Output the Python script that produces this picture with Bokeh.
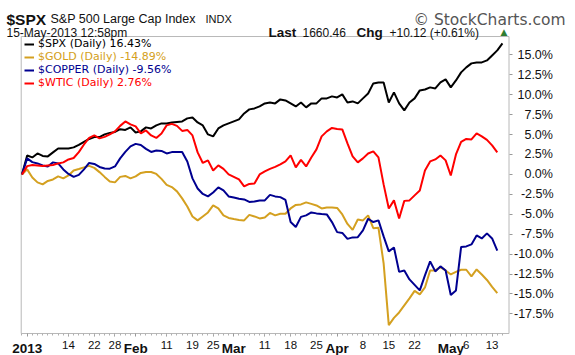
import pandas as pd
from bokeh.plotting import figure
from bokeh.models import Range1d, LinearAxis, FixedTicker, Legend, LegendItem, Label
from bokeh.embed import file_html
from bokeh.resources import INLINE

# ---------------- data (percent change since 31-Dec-2012 close) ----------------
holidays = ["2013-01-01", "2013-01-21", "2013-02-18", "2013-03-29"]
sessions = [d.strftime("%Y-%m-%d") for d in pd.bdate_range("2012-12-31", "2013-05-15")
            if d.strftime("%Y-%m-%d") not in holidays]

spx = [0.00, 2.38, 2.13, 2.63, 2.32, 2.26, 2.76, 3.26, 3.26, 3.26,
       3.39, 3.70, 4.08, 4.45, 4.68, 4.68, 5.02, 5.21, 5.33, 5.68,
       5.58, 5.90, 5.27, 5.40, 5.90, 5.77, 6.15, 6.40, 6.40, 6.52,
       6.59, 6.65, 7.03, 7.15, 6.52, 6.15, 5.02, 4.77, 5.77, 6.15,
       6.40, 6.65, 6.90, 7.65, 8.16, 8.28, 8.53, 8.91, 9.03, 8.91,
       9.41, 9.28, 8.91, 8.53, 9.03, 8.41, 8.91, 8.91, 9.54, 9.54,
       9.79, 9.66, 10.04, 9.03, 9.16, 8.91, 9.54, 10.16, 11.42, 11.54,
       11.54, 9.03, 10.29, 8.91, 8.03, 9.03, 9.54, 10.54, 10.66, 10.92,
       10.79, 11.54, 11.92, 10.92, 11.79, 12.80, 13.43, 13.93, 14.05, 14.05,
       14.30, 14.93, 15.56, 16.43]

gold = [0.00, 0.63, -0.38, -1.00, -1.25, -0.82, -0.63, -0.25, -0.50, -0.13,
        0.50, 0.68, 0.88, 1.07, 0.82, 0.29, -0.31, -0.88, -1.00, -0.31,
        -0.19, -0.50, -0.25, 0.19, 0.31, 0.31, 0.06, -0.56, -1.32, -1.59,
        -2.13, -3.01, -4.02, -5.27, -5.77, -5.27, -4.77, -3.89, -4.27, -5.14,
        -5.46, -5.60, -5.71, -5.77, -5.08, -5.27, -5.52, -5.40, -4.83, -5.14,
        -4.93, -4.93, -4.27, -3.83, -3.76, -3.51, -3.70, -3.89, -4.27, -4.14,
        -4.14, -4.20, -5.02, -6.21, -6.96, -5.65, -5.77, -5.14, -6.74, -6.69,
        -11.17, -18.90, -18.00, -17.32, -16.44, -15.56, -14.62, -15.06, -14.18, -12.05,
        -12.05, -11.63, -12.05, -12.55, -12.23, -11.96, -11.96, -12.80, -11.92, -12.55,
        -13.24, -14.12, -14.89]

copper = [0.00, 2.01, 1.54, 1.38, 1.13, 1.00, 1.51, 1.38, 0.63, 0.06,
          -0.31, -0.06, 0.63, 1.44, 1.32, 0.94, 0.75, 0.72, 1.00, 2.01,
          2.82, 3.51, 3.83, 3.70, 3.20, 2.82, 3.01, 2.95, 2.63, 2.80,
          2.80, 2.80, 1.63, -0.50, -1.76, -2.45, -2.76, -2.26, -1.63, -2.01,
          -2.76, -2.90, -3.05, -3.14, -3.45, -3.39, -3.26, -3.26, -2.57, -2.76,
          -2.85, -3.20, -5.96, -6.59, -5.33, -5.14, -4.77, -4.89, -4.96, -5.02,
          -5.98, -7.24, -7.34, -8.09, -7.90, -7.87, -7.03, -5.56, -5.98, -5.77,
          -7.78, -9.66, -9.16, -12.23, -12.05, -13.17, -13.86, -14.55, -12.67, -10.92,
          -12.17, -11.54, -12.05, -15.12, -14.55, -9.10, -9.03, -8.78, -7.65, -8.03,
          -7.40, -8.03, -9.56]

wtic = [0.00, 1.04, 1.18, 1.13, 1.07, 1.13, 1.18, 1.38, 1.51, 1.88,
        2.06, 2.80, 3.76, 4.58, 4.89, 4.52, 4.71, 5.02, 5.40, 6.09,
        6.65, 6.27, 6.02, 5.14, 5.52, 4.89, 4.58, 5.14, 6.15, 6.34,
        6.09, 5.46, 5.58, 4.89, 2.76, 1.44, 1.76, 0.50, 1.13, 0.69,
        0.00, -0.30, -0.63, -1.51, -1.19, -1.13, 0.00, 0.38, 0.69, 0.94,
        1.25, 1.63, 2.38, 0.88, 1.82, 1.00, 2.13, 3.14, 4.77, 5.40,
        5.83, 5.71, 5.65, 3.89, 2.26, 1.51, 2.01, 2.63, 2.89, 2.13,
        -1.25, -4.27, -3.26, -5.52, -3.32, -3.26, -2.63, -2.01, 0.50, 1.63,
        1.88, 2.38, 1.76, -0.13, 2.51, 4.08, 4.45, 4.39, 5.14, 4.77,
        4.33, 3.64, 2.76]

legend_labels = ["$SPX (Daily) 16.43%", "$GOLD (Daily) -14.89%",
                 "$COPPER (Daily) -9.56%", "$WTIC (Daily) 2.76%"]

day_label_dates = ["2013-01-14", "2013-01-22", "2013-01-28", "2013-02-11", "2013-02-19",
                   "2013-02-25", "2013-03-11", "2013-03-18", "2013-03-25", "2013-04-08",
                   "2013-04-15", "2013-04-22", "2013-05-06", "2013-05-13"]
day_labels = ["14", "22", "28", "11", "19", "25", "11", "18", "25", "8", "15", "22", "6", "13"]
month_label_dates = ["2013-01-02", "2013-02-01", "2013-03-01", "2013-04-01", "2013-05-01"]
month_labels = ["2013", "Feb", "Mar", "Apr", "May"]

y_ticks = [15.0, 12.5, 10.0, 7.5, 5.0, 2.5, 0.0, -2.5, -5.0, -7.5, -10.0, -12.5, -15.0, -17.5]

header_symbol = "$SPX"
header_name = "S&P 500 Large Cap Index"
header_exchange = "INDX"
header_date = "15-May-2013 12:58pm"
last_value = "1660.46"
chg_value = "+10.12 (+0.61%)"

# ---------------- layout constants ----------------
W, H = 575, 355
# chart box (in data units): sessions on x, percent on y
CL, CR = -0.15, 94.27
CB, CT = -19.96, 17.30
# canvas extents in the same units (the whole canvas is the plotting frame)
XL, XR = -4.16, 107.14
YB, YT = -22.72, 21.82

p = figure(width=W, height=H, output_backend="svg", toolbar_location=None,
           x_range=Range1d(XL, XR), y_range=Range1d(YB, YT),
           x_axis_location=None, y_axis_location=None,
           min_border=0, min_border_left=0, min_border_right=0,
           min_border_top=0, min_border_bottom=0)
p.outline_line_color = None
p.grid.visible = False
p.background_fill_color = "white"
p.border_fill_color = "white"

# chart box outline
p.quad(left=[CL], right=[CR], bottom=[CB], top=[CT], fill_color=None,
       line_color="#b8b8b8", line_width=1)

# right y axis at the chart's right edge
ya = LinearAxis(ticker=FixedTicker(ticks=y_ticks, minor_ticks=[]), fixed_location=CR)


def pad(v):
    s = f"{v:.1f}%"
    w = (1 if v >= 0 else 0) + (2 if abs(v) < 10 else 0)
    pre = {0: "", 1: "\u2008", 2: "\u2007", 3: "\u2007\u2008"}[w]
    return pre + s


ya.major_label_overrides = {float(v): pad(v) for v in y_ticks}
ya.axis_line_color = None
ya.major_tick_out = 3
ya.major_tick_in = 0
ya.major_tick_line_color = "#999999"
ya.minor_tick_line_color = None
ya.major_label_standoff = 2
ya.major_label_text_font = "Liberation Sans"
ya.major_label_text_font_size = "12.5px"
ya.major_label_text_color = "#111111"
p.add_layout(ya, "right")

# x axes (day numbers + bold month names) at the chart's bottom edge
idx = {d: i for i, d in enumerate(sessions)}
day_ticks = [idx[d] for d in day_label_dates]
month_ticks = [idx[d] for d in month_label_dates]

day_axis = LinearAxis(ticker=FixedTicker(ticks=day_ticks, minor_ticks=list(range(len(sessions)))),
                      fixed_location=CB)
day_axis.major_label_overrides = {t: l for t, l in zip(day_ticks, day_labels)}
month_axis = LinearAxis(ticker=FixedTicker(ticks=month_ticks, minor_ticks=[]), fixed_location=CB)
month_axis.major_label_overrides = {t: l for t, l in zip(month_ticks, month_labels)}
for ax in (day_axis, month_axis):
    ax.axis_line_color = None
    ax.major_tick_out = 3
    ax.major_tick_in = 0
    ax.minor_tick_out = 2
    ax.minor_tick_in = 0
    ax.major_tick_line_color = "#999999"
    ax.minor_tick_line_color = "#b0b0b0"
    ax.major_label_standoff = 4
    ax.major_label_text_font = "Liberation Sans"
    ax.major_label_text_color = "#111111"
day_axis.major_label_text_font_size = "11.5px"
month_axis.major_label_text_font_size = "13.5px"
month_axis.major_label_text_font_style = "bold"
p.add_layout(day_axis, "below")
p.add_layout(month_axis, "below")

# series
colors = ["#000000", "#D4A020", "#000090", "#FF0000"]
series = [spx, gold, copper, wtic]
renderers = []
for ys, c in zip(series, colors):
    r = p.line(x=list(range(len(ys))), y=ys, line_color=c, line_width=2)
    renderers.append(r)

# legends (one per entry so each label gets its own colour)
for k, (r, lab, c) in enumerate(zip(renderers, legend_labels, colors)):
    leg = Legend(items=[LegendItem(label=lab, renderers=[r])], location=(24, 305 - 13 * k))
    leg.border_line_color = None
    leg.background_fill_alpha = 0
    leg.padding = 0
    leg.margin = 0
    leg.spacing = 0
    leg.glyph_width = 10
    leg.glyph_height = 12
    leg.label_height = 12
    leg.label_standoff = 4
    leg.label_text_font = "DejaVu Sans"
    leg.label_text_font_size = "11px"
    leg.label_text_color = c
    p.add_layout(leg)


# header texts
def lab(text, x, y, size, bold=False, font="Liberation Sans", color="#111111", align="left"):
    p.add_layout(Label(x=x, y=y, x_units="screen", y_units="screen", text=text,
                       text_font=font, text_font_size=size,
                       text_font_style="bold" if bold else "normal",
                       text_color=color, text_align=align, text_baseline="alphabetic"))


lab(header_symbol, 6, 336, "15.5px", bold=True)
lab(header_name, 50, 337, "12.5px")
lab(header_exchange, 205, 337, "11px")
lab(header_date, 6, 323, "12px")
lab("\u00a9 StockCharts.com", 565, 336, "15.5px", font="DejaVu Sans", color="#555555", align="right")
lab("Last", 268, 323, "13.5px", bold=True)
lab(last_value, 302, 323, "12px")
lab("Chg", 356, 323, "13.5px", bold=True)
lab(chg_value, 389, 323, "12px")
lab("\u25b2", 500, 324, "9px", font="DejaVu Sans", color="#2E7D32")

open("out.html", "w").write(file_html(p, INLINE))
